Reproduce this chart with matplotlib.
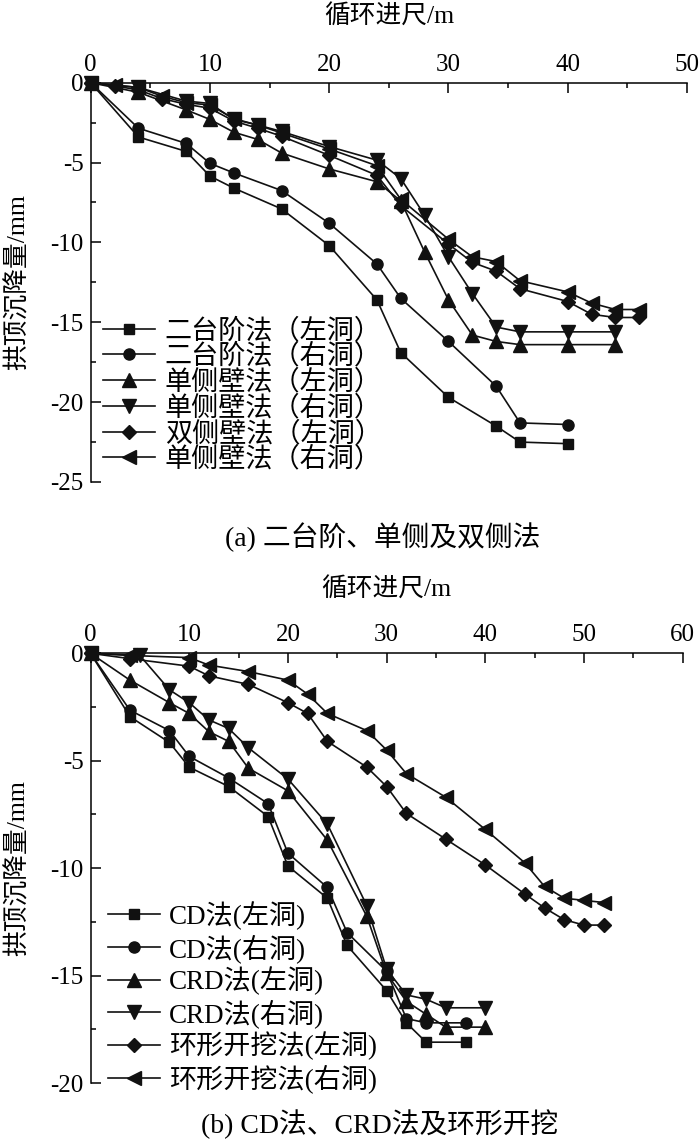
import matplotlib
matplotlib.use("Agg")
import matplotlib.pyplot as plt
from matplotlib.ticker import MultipleLocator

plt.rcParams['axes.unicode_minus'] = False
FAM = ['Liberation Serif', 'Noto Sans CJK SC', 'DejaVu Sans']
plt.rcParams['font.family'] = FAM

# ---------------- data: (a) ----------------
a_labels = ['二台阶法（左洞）', '二台阶法（右洞）', '单侧壁法（左洞）',
            '单侧壁法（右洞）', '双侧壁法（左洞）', '单侧壁法（右洞）']
a_x_tb = [0, 4, 8, 10, 12, 16, 20, 24, 26, 30, 34, 36, 40]
a_y_tb_left = [0, -3.4, -4.3, -5.85, -6.6, -7.9, -10.2, -13.6, -16.9, -19.7, -21.5, -22.5, -22.6]
a_y_tb_right = [0, -2.85, -3.8, -5.05, -5.65, -6.75, -8.8, -11.35, -13.5, -16.2, -19.0, -21.3, -21.4]
a_x_sw = [0, 4, 8, 10, 12, 14, 16, 20, 24, 26, 28, 30, 32, 34, 36, 40, 44]
a_y_sw_left = [0, -0.6, -1.7, -2.3, -3.1, -3.55, -4.4, -5.4, -6.2, -7.4, -10.6, -13.6, -15.8, -16.2, -16.4, -16.4, -16.4]
a_y_sw_right = [0, -0.3, -1.15, -1.3, -2.3, -2.65, -3.05, -4.0, -4.85, -6.0, -8.3, -10.9, -13.2, -15.3, -15.6, -15.6, -15.6]
a_x_dw = [0, 2, 4, 6, 8, 10, 12, 14, 16, 20, 24, 26, 30, 32, 34, 36, 40, 42, 44, 46]
a_y_dw_left = [0, -0.2, -0.45, -1.0, -1.35, -1.6, -2.4, -2.85, -3.35, -4.55, -5.8, -7.7, -10.1, -11.25, -11.8, -12.9, -13.7, -14.5, -14.7, -14.7]
a_y_sw2_right = [0, -0.15, -0.3, -0.85, -1.25, -1.4, -2.25, -2.65, -3.15, -4.15, -5.2, -7.3, -9.8, -10.9, -11.2, -12.4, -13.1, -13.8, -14.2, -14.2]

# ---------------- data: (b) ----------------
b_labels = ['CD法(左洞)', 'CD法(右洞)', 'CRD法(左洞)', 'CRD法(右洞)',
            '环形开挖法(左洞)', '环形开挖法(右洞)']
b_x_cd = [0, 4, 8, 10, 14, 18, 20, 24, 26, 30, 32, 34, 38]
b_y_cd_left = [0, -2.95, -4.15, -5.3, -6.2, -7.6, -9.9, -11.4, -13.6, -15.7, -17.2, -18.1, -18.1]
b_y_cd_right = [0, -2.65, -3.6, -4.8, -5.8, -7.0, -9.3, -10.9, -13.0, -14.8, -17.0, -17.2, -17.2]
b_x_crd_left = [0, 4, 8, 10, 12, 14, 16, 20, 24, 28, 30, 32, 34, 36, 40]
b_y_crd_left = [0, -1.25, -2.3, -2.8, -3.65, -4.1, -5.35, -6.4, -8.7, -12.25, -14.9, -16.2, -16.8, -17.4, -17.4]
b_x_crd_right = [0, 5, 8, 10, 12, 14, 16, 20, 24, 28, 30, 32, 34, 36, 40]
b_y_crd_right = [0, -0.1, -1.7, -2.3, -3.1, -3.5, -4.4, -5.85, -7.95, -11.75, -14.7, -15.9, -16.1, -16.5, -16.5]
b_x_ring = [0, 4, 10, 12, 16, 20, 22, 24, 28, 30, 32, 36, 40, 44, 46, 48, 50, 52]
b_y_ring_left = [0, -0.25, -0.6, -1.05, -1.45, -2.3, -2.8, -4.1, -5.3, -6.2, -7.45, -8.65, -9.85, -11.2, -11.85, -12.4, -12.65, -12.65]
b_y_ring_right = [0, -0.1, -0.2, -0.55, -0.85, -1.25, -1.9, -2.8, -3.6, -4.5, -5.6, -6.7, -8.2, -9.75, -10.85, -11.4, -11.5, -11.6]

a_xticks = [0, 10, 20, 30, 40, 50]
a_yticks = [0, -5, -10, -15, -20, -25]
b_xticks = [0, 10, 20, 30, 40, 50, 60]
b_yticks = [0, -5, -10, -15, -20]

MARKERS = ['s', 'o', '^', 'v', 'D', '<']
MS = [7.5, 8, 9.5, 9.5, 7, 9.5]
W, H = 700, 1142
fig = plt.figure(figsize=(W / 100, H / 100), dpi=100)


def px_axes(l, t, r, b):
    return fig.add_axes([l / W, 1 - b / H, (r - l) / W, (b - t) / H])


def style(ax, xmax, ymin, xt, yt):
    ax.set_xlim(0, xmax)
    ax.set_ylim(ymin, 0)
    ax.xaxis.tick_top()
    for s in ['right', 'bottom']:
        ax.spines[s].set_visible(False)
    for s in ['left', 'top']:
        ax.spines[s].set_linewidth(1.1)
    ax.set_xticks(xt)
    ax.set_yticks(yt)
    ax.set_xticklabels([str(v) for v in xt])
    ax.set_yticklabels([str(v) for v in yt])
    ax.xaxis.set_minor_locator(MultipleLocator(5))
    ax.yaxis.set_minor_locator(MultipleLocator(2.5))
    ax.tick_params(which='both', direction='in', top=True, bottom=False,
                   left=True, right=False, width=1.1, labelsize=18)
    ax.tick_params(which='major', length=7)
    ax.tick_params(which='minor', length=3.5)
    ax.tick_params(axis='x', pad=5)
    ax.tick_params(axis='y', pad=5)
    for lab in ax.get_xticklabels() + ax.get_yticklabels():
        lab.set_family(FAM)


def draw(ax, xs, ys, labels):
    for i, (x, y, lab) in enumerate(zip(xs, ys, labels)):
        ax.plot(x, y, color='#111111', lw=1.2, marker=MARKERS[i], ms=MS[i],
                mfc='#111111', mec='#111111', label=lab, clip_on=False, zorder=3)


# ---- (a)
ax1 = px_axes(90.7, 82.7, 687, 482)
style(ax1, 50, -25, a_xticks, a_yticks)
draw(ax1,
     [a_x_tb, a_x_tb, a_x_sw, a_x_sw, a_x_dw, a_x_dw],
     [a_y_tb_left, a_y_tb_right, a_y_sw_left, a_y_sw_right, a_y_dw_left, a_y_sw2_right],
     a_labels)
leg1 = ax1.legend(loc='upper left', bbox_to_anchor=(0.02, 0.41), frameon=False,
                  prop={'family': FAM, 'size': 19.5}, handlelength=1.95,
                  handletextpad=0.35, labelspacing=0.0, borderpad=0, borderaxespad=0)

# ---- (b)
ax2 = px_axes(90.5, 653.3, 682.7, 1083)
style(ax2, 60, -20, b_xticks, b_yticks)
draw(ax2,
     [b_x_cd, b_x_cd, b_x_crd_left, b_x_crd_right, b_x_ring, b_x_ring],
     [b_y_cd_left, b_y_cd_right, b_y_crd_left, b_y_crd_right, b_y_ring_left, b_y_ring_right],
     b_labels)
leg2 = ax2.legend(loc='upper left', bbox_to_anchor=(0.03, 0.423), frameon=False,
                  prop={'family': FAM, 'size': 19.5}, handlelength=1.9,
                  handletextpad=0.35, labelspacing=0.14, borderpad=0, borderaxespad=0)

# ---- labels and captions
fig.text(389 / W, 1 - 17 / H, '循环进尺/m', ha='center', va='center', fontsize=18.5, family=FAM)
fig.text(18 / W, 1 - 282 / H, '拱顶沉降量/mm', ha='center', va='center', rotation=90, fontsize=18.5, family=FAM)
fig.text(383 / W, 1 - 537 / H, '(a) 二台阶、单侧及双侧法', ha='center', va='center', fontsize=20, family=FAM)

fig.text(386 / W, 1 - 590 / H, '循环进尺/m', ha='center', va='center', fontsize=18.5, family=FAM)
fig.text(18 / W, 1 - 868 / H, '拱顶沉降量/mm', ha='center', va='center', rotation=90, fontsize=18.5, family=FAM)
fig.text(380 / W, 1 - 1124 / H, '(b) CD法、CRD法及环形开挖', ha='center', va='center', fontsize=20, family=FAM)

fig.savefig('out.png', dpi=100, facecolor='white')
